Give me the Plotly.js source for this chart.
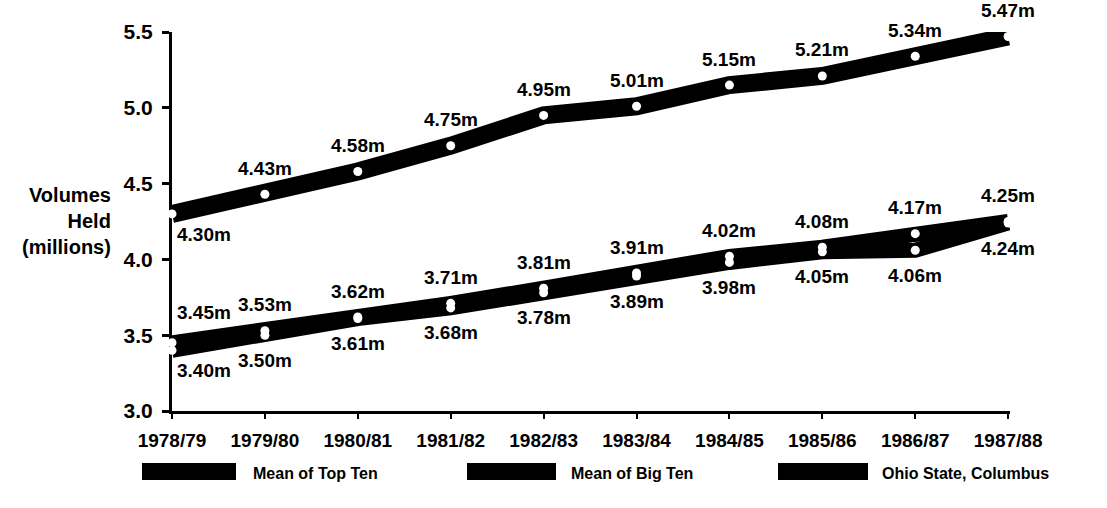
<!DOCTYPE html>
<html>
<head>
<meta charset="utf-8">
<script src="https://cdn.plot.ly/plotly-3.0.1.min.js"></script>
<style>
  html, body { margin: 0; padding: 0; background: #fff; }
  #chart { width: 1107px; height: 508px; }
</style>
</head>
<body>
<div id="chart"></div>
<script>
// ---- data ----
const years = ['1978/79', '1979/80', '1980/81', '1981/82', '1982/83', '1983/84', '1984/85', '1985/86', '1986/87', '1987/88'];
const topTen = [4.30, 4.43, 4.58, 4.75, 4.95, 5.01, 5.15, 5.21, 5.34, 5.47];
const bigTen = [3.45, 3.53, 3.62, 3.71, 3.81, 3.91, 4.02, 4.08, 4.17, 4.25];
const ohioState = [3.40, 3.50, 3.61, 3.68, 3.78, 3.89, 3.98, 4.05, 4.06, 4.24];
const seriesNames = ['Mean of Top Ten', 'Mean of Big Ten', 'Ohio State, Columbus'];
const yTicks = [3.0, 3.5, 4.0, 4.5, 5.0, 5.5];
const yTitleLines = ['Volumes', 'Held', '(millions)'];

// ---- styling ----
const FONT = 'Liberation Sans, Arial, Helvetica, sans-serif';
const series = [topTen, bigTen, ohioState];
const lineWidths = [18, 15, 15];

const traces = [];
// bands first
series.forEach((vals, k) => {
  traces.push({
    type: 'scatter', mode: 'lines', x: years, y: vals, name: seriesNames[k],
    line: { color: '#000', width: lineWidths[k] }, showlegend: false, hoverinfo: 'skip'
  });
});
// then white dots on top
series.forEach((vals, k) => {
  traces.push({
    type: 'scatter', mode: 'markers', x: years, y: vals, name: seriesNames[k],
    marker: { color: '#fff', size: 9, line: { width: 0 } }, showlegend: false, cliponaxis: false
  });
});

const lblFont = { family: FONT, size: 19, color: '#000', weight: 700 };
const annotations = [];
function addLabels(vals, above, firstShift) {
  vals.forEach((v, i) => {
    const first = i === 0;
    annotations.push({
      x: years[i], y: v, xref: 'x', yref: 'y', text: v.toFixed(2) + 'm', showarrow: false,
      font: lblFont, xanchor: first ? 'left' : 'center', xshift: first ? 3 : 0,
      yshift: first ? firstShift : (above ? 26 : -25)
    });
  });
}
addLabels(topTen, true, -21);
addLabels(bigTen, true, 30);
addLabels(ohioState, false, -20);

// y-axis title (right-aligned, three lines)
const L = 172, R = 1010, T = 32, B = 411;
const px2x = p => (p - L) / (R - L);
const px2y = p => (B - p) / (B - T);
annotations.push({
  xref: 'paper', yref: 'paper', x: px2x(113), y: px2y(221), xanchor: 'right', yanchor: 'middle',
  align: 'right', text: yTitleLines.join('<br>'), showarrow: false,
  font: { family: FONT, size: 20, color: '#000', weight: 700 }
});

// legend (black swatches + bold text)
const shapes = [];
const swatchX = [[142, 236], [467, 556], [778, 868]];
const textX = [251, 569, 880];
seriesNames.forEach((n, i) => {
  shapes.push({
    type: 'rect', xref: 'paper', yref: 'paper',
    x0: px2x(swatchX[i][0]), x1: px2x(swatchX[i][1]), y0: px2y(480), y1: px2y(463),
    fillcolor: '#000', line: { width: 0 }
  });
  annotations.push({
    xref: 'paper', yref: 'paper', x: px2x(textX[i]), y: px2y(473), xanchor: 'left', yanchor: 'middle',
    text: n, showarrow: false, font: { family: FONT, size: 16, color: '#000', weight: 700 }
  });
});

const layout = {
  width: 1107, height: 508,
  margin: { l: L, r: 1107 - R, t: T, b: 508 - B, pad: 0 },
  paper_bgcolor: '#fff', plot_bgcolor: '#fff',
  showlegend: false,
  xaxis: {
    type: 'category', range: [0, 9.02], showgrid: false, zeroline: false,
    showline: true, linecolor: '#000', linewidth: 2.5, layer: 'below traces',
    ticks: 'outside', ticklen: 5, tickwidth: 2, tickcolor: '#000',
    tickfont: { family: FONT, size: 19, color: '#000', weight: 700 },
    ticklabelstandoff: 6
  },
  yaxis: {
    range: [3.0, 5.5], tickvals: yTicks, ticktext: yTicks.map(v => v.toFixed(1)),
    showgrid: false, zeroline: false,
    showline: true, linecolor: '#000', linewidth: 3, layer: 'below traces',
    ticks: 'outside', ticklen: 7, tickwidth: 3, tickcolor: '#000',
    tickfont: { family: FONT, size: 21, color: '#000', weight: 700 },
    ticklabelstandoff: 5
  },
  annotations: annotations,
  shapes: shapes
};

Plotly.newPlot('chart', traces, layout, { displayModeBar: false, staticPlot: true });
</script>
</body>
</html>
